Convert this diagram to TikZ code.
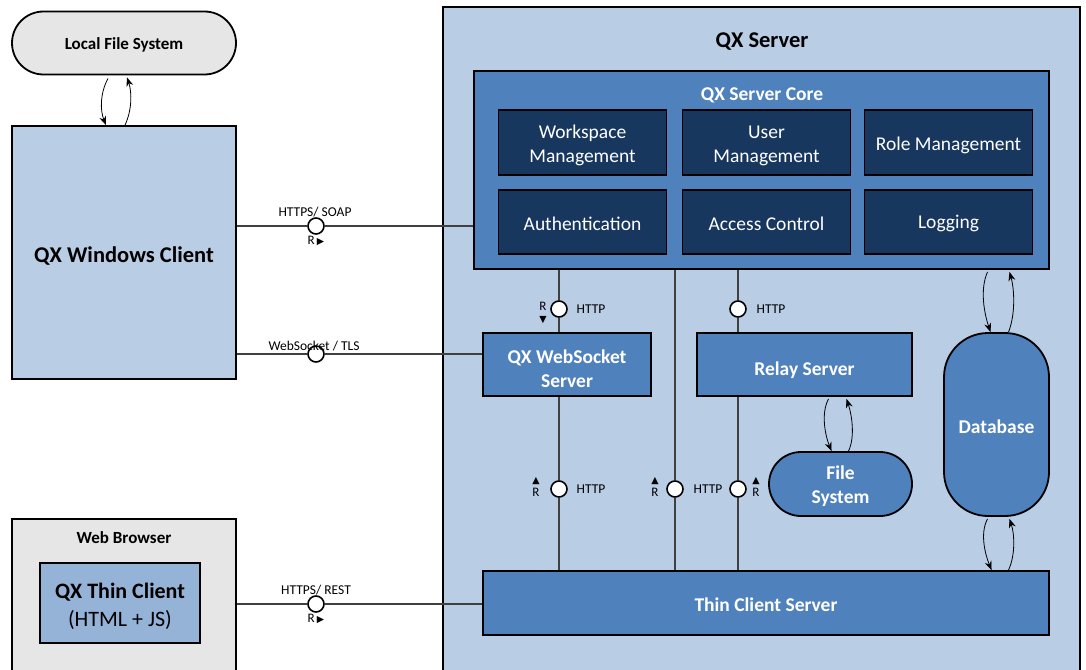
\documentclass[tikz,border=0pt]{standalone}
\usepackage{fontspec}
\setmainfont{Carlito}
\newfontfamily\symf{DejaVu Sans}
\usetikzlibrary{arrows.meta,calc}
\definecolor{lgray}{HTML}{E6E6E6}
\definecolor{lblue}{HTML}{B9CDE5}
\definecolor{mblue}{HTML}{4F81BD}
\definecolor{navy}{HTML}{17375E}
\definecolor{tblue}{HTML}{95B3D7}
\newcommand{\tri}[1]{{\symf\fontsize{9.5pt}{10pt}\selectfont #1}}
\tikzset{
  every node/.style={font=\fontsize{19.5pt}{24pt}\selectfont},
  bx/.style={draw=black, line width=1.8pt, inner sep=0pt},
  txt/.style={inner sep=0pt, align=center},
  stad/.style={bx, rounded corners=31.5pt},
  inner/.style={bx, fill=navy, minimum width=168pt},
  itx/.style={txt, text=white},
  bluebx/.style={bx, fill=mblue},
  btx/.style={txt, text=white, font=\fontsize{19.5pt}{24pt}\selectfont\bfseries},
  conn/.style={draw=black!75, line width=1.1pt},
  iface/.style={circle, draw=black, line width=1.6pt, fill=white, minimum size=16pt, inner sep=0pt},
  lab/.style={font=\fontsize{13.5pt}{15pt}\selectfont, inner sep=0pt, align=center},
  rlab/.style={font=\fontsize{13pt}{12.5pt}\selectfont, inner sep=0pt, align=center},
  biarr/.style={-{Stealth[length=9pt,width=7pt]}, line width=0.8pt}
}
\begin{document}
\begin{tikzpicture}[x=1pt,y=-1pt]
\useasboundingbox (0,0) rectangle (1086,669);
\fill[white] (0,0) rectangle (1086,669);
\begin{scope}
\clip (0,0) rectangle (1086,669);
% left side
\node[stad, fill=lgray, minimum width=224pt, minimum height=63pt,
  label={[txt, yshift=-2pt, font=\fontsize{17pt}{19pt}\selectfont\bfseries]center:Local File System}] (lfs) at (124,43) {};
\node[bx, fill=lblue, minimum width=224pt, minimum height=253pt,
  label={[txt, yshift=-4pt, font=\fontsize{22.5pt}{26pt}\selectfont\bfseries]center:QX Windows Client}] (wc) at (124,252.5) {};
\node[bx, fill=lgray, minimum width=224pt, minimum height=160pt] (wb) at (124,599) {};
\node[txt, font=\fontsize{17pt}{19pt}\selectfont\bfseries] (wbt) at (124,538) {Web Browser};
\node[bx, fill=tblue, minimum width=160pt, minimum height=80pt,
  label={[txt, yshift=-3pt, font=\fontsize{22pt}{28pt}\selectfont]center:\textbf{QX Thin Client}\\(HTML + JS)}] (tc) at (120,603) {};
% server
\node[bx, fill=lblue, minimum width=637pt, minimum height=672pt] (srv) at (761.5,343) {};
\node[txt, font=\fontsize{22.5pt}{26pt}\selectfont\bfseries] (srvt) at (762,42) {QX Server};
\node[bx, fill=mblue, minimum width=575pt, minimum height=198pt] (core) at (761.5,170) {};
\node[txt, text=white, font=\fontsize{19.5pt}{22pt}\selectfont\bfseries] (coret) at (762,95) {QX Server Core};
\node[inner, minimum height=65pt, label={[itx, yshift=-3pt]center:Workspace\\Management}] (wm) at (582.5,142.5) {};
\node[inner, minimum height=65pt, label={[itx, yshift=-3pt]center:User\\Management}] (um) at (766.5,142.5) {};
\node[inner, minimum height=65pt, label={[itx, yshift=-3pt]center:Role Management}] (rm) at (948.5,142.5) {};
\node[inner, minimum height=64pt, label={[itx, yshift=-1.5pt]center:Authentication}] (au) at (582.5,222) {};
\node[inner, minimum height=64pt, label={[itx, yshift=-1.5pt]center:Access Control}] (ac) at (766.5,222) {};
\node[inner, minimum height=64pt, label={[itx, yshift=-1.5pt]center:Logging}] (lg) at (948.5,222) {};
\node[bluebx, minimum width=168pt, minimum height=63pt, label={[btx, yshift=-4pt]center:QX WebSocket\\Server}] (ws) at (567,364.5) {};
\node[bluebx, minimum width=215pt, minimum height=63pt, label={[btx, yshift=-5.5pt]center:Relay Server}] (rs) at (804.5,364.5) {};
\node[bluebx, rounded corners=32pt, minimum width=143pt, minimum height=64pt, label={[btx, yshift=-2.5pt]center:File\\System}] (fs) at (840.5,484) {};
\node[bluebx, rounded corners=44pt, minimum width=105pt, minimum height=183pt, label={[btx, yshift=-2pt]center:Database}] (db) at (996.5,424.5) {};
\node[bluebx, minimum width=566pt, minimum height=64pt, label={[btx, yshift=-2pt]center:Thin Client Server}] (tcs) at (766,603) {};
% interfaces left
\node[iface] (i1) at (316,226) {};
\node[iface] (i2) at (316,354) {};
\node[iface] (i3) at (316,604) {};
\draw[conn] (wc.east |- i1) -- (i1) -- (core.west |- i1);
\draw[conn] (wc.east |- i2) -- (i2) -- (ws.west |- i2);
\draw[conn] (wb.east |- i3) -- (i3) -- (tcs.west |- i3);
\node[lab] (l1) at (315,212) {HTTPS/ SOAP};
\node[lab] (l2) at (314,346) {WebSocket / TLS};
\node[lab] (l3) at (316,590) {HTTPS/ REST};
\node[rlab] (r1) at (316,241) {R\,\tri{▶}};
\node[rlab] (r3) at (316,619) {R\,\tri{▶}};
% interfaces inside
\node[iface] (i4) at (559,309) {};
\node[iface] (i5) at (738,309) {};
\node[iface] (i6) at (559,489) {};
\node[iface] (i7) at (675,489) {};
\node[iface] (i8) at (738,489) {};
\draw[conn] (core.south -| i4) -- (i4) -- (ws.north -| i4);
\draw[conn] (core.south -| i5) -- (i5) -- (rs.north -| i5);
\draw[conn] (ws.south -| i6) -- (i6) -- (tcs.north -| i6);
\draw[conn] (core.south -| i7) -- (i7) -- (tcs.north -| i7);
\draw[conn] (rs.south -| i8) -- (i8) -- (tcs.north -| i8);
\node[lab] (h4) at (591,309) {HTTP};
\node[lab] (h5) at (771,309) {HTTP};
\node[lab] (h6) at (591,489) {HTTP};
\node[lab] (h7) at (708,489) {HTTP};
\node[rlab] (r4) at (543,313) {R\\\tri{▼}};
\node[rlab] (r6) at (536,487) {\tri{▲}\\R};
\node[rlab] (r7) at (655,487) {\tri{▲}\\R};
\node[rlab] (r8) at (756,487) {\tri{▲}\\R};
% bidirectional curved arrows
\draw[biarr] ($(lfs.south)+(-16,3)$) .. controls +(-8,15) and +(-6,-15) .. ($(wc.north)+(-18,0)$);
\draw[biarr] ($(wc.north)+(1,0)$) .. controls +(7,-15) and +(5,15) .. ($(lfs.south)+(3,2)$);
\draw[biarr] ($(rs.south -| fs.north)+(-12,2)$) .. controls +(-8,15) and +(-6,-15) .. ($(fs.north)+(-9,0)$);
\draw[biarr] ($(fs.north)+(8,0)$) .. controls +(7,-15) and +(5,15) .. ($(rs.south -| fs.north)+(6,2)$);
\draw[biarr] ($(core.south -| db.north)+(-9,2)$) .. controls +(-8,18) and +(-6,-18) .. ($(db.north)+(-6,0)$);
\draw[biarr] ($(db.north)+(12,0)$) .. controls +(7,-18) and +(5,18) .. ($(core.south -| db.north)+(13,2)$);
\draw[biarr] ($(db.south)+(-9,2)$) .. controls +(-8,15) and +(-6,-15) .. ($(tcs.north -| db.south)+(-5,0)$);
\draw[biarr] ($(tcs.north -| db.south)+(12,0)$) .. controls +(7,-15) and +(5,15) .. ($(db.south)+(13,2)$);
\end{scope}
\end{tikzpicture}
\end{document}
